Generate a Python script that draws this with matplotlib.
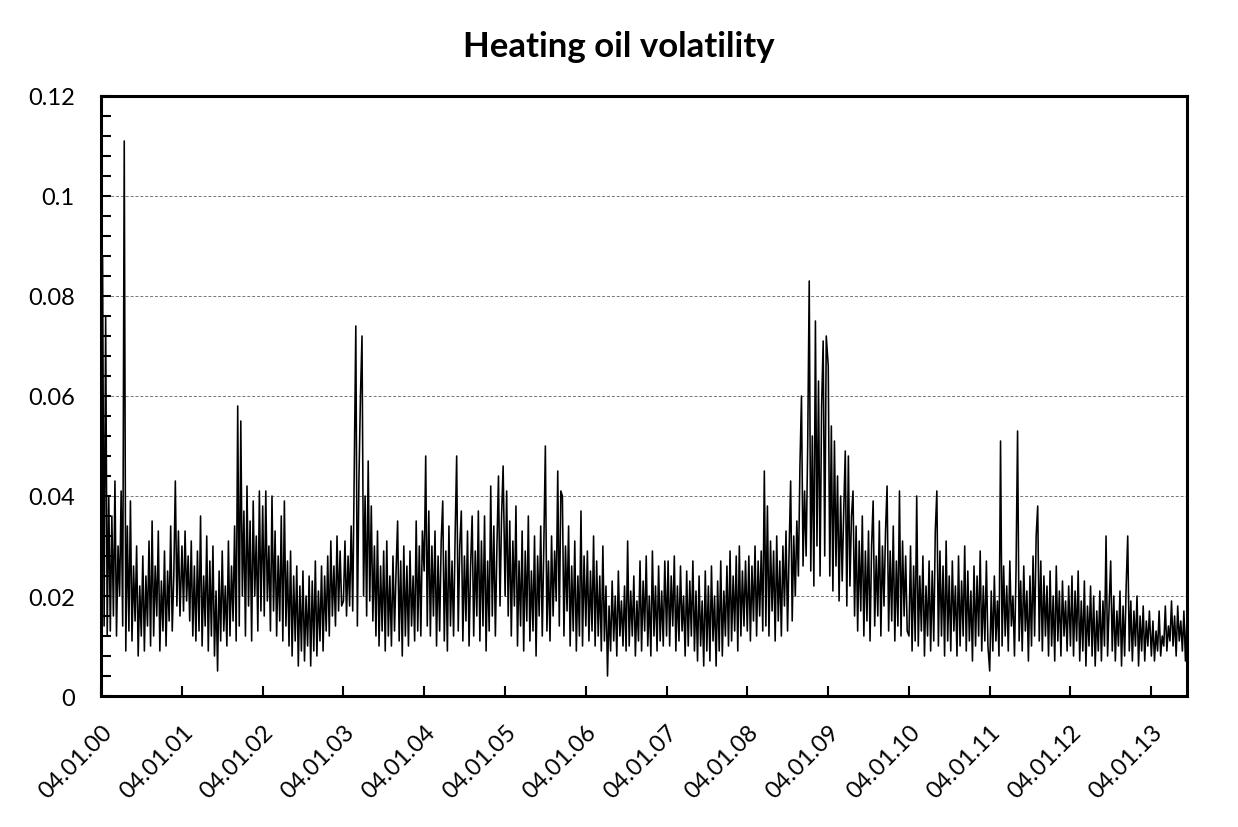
import numpy as np
import pandas as pd
import matplotlib
matplotlib.use("Agg")
import matplotlib.pyplot as plt
from matplotlib.ticker import MultipleLocator

# weekly readings of the volatility series, one list per year (starting 4 Jan)
vol_2000 = [0.025, 0.088, 0.014, 0.076, 0.012, 0.040, 0.013, 0.036, 0.016, 0.043, 0.012, 0.030, 0.020, 0.041, 0.014, 0.111,
            0.009, 0.034, 0.013, 0.039, 0.011, 0.026, 0.015, 0.030, 0.008, 0.022, 0.012, 0.028, 0.009, 0.024, 0.014, 0.031,
            0.010, 0.035, 0.012, 0.026, 0.016, 0.033, 0.009, 0.023, 0.013, 0.029, 0.010, 0.025, 0.015, 0.034, 0.013, 0.024,
            0.043, 0.018, 0.033, 0.016]
vol_2001 = [0.030, 0.017, 0.033, 0.019, 0.028, 0.015, 0.031, 0.012, 0.026,
            0.011, 0.029, 0.013, 0.036, 0.010, 0.024, 0.014, 0.032, 0.009, 0.027, 0.012, 0.030, 0.008, 0.021, 0.005,
            0.025, 0.011, 0.029, 0.013, 0.022, 0.010, 0.031, 0.012, 0.026, 0.015, 0.034, 0.011,
            0.058, 0.014, 0.055, 0.020, 0.037, 0.012, 0.042, 0.018, 0.035, 0.011, 0.039, 0.020, 0.032, 0.013, 0.041, 0.017]
vol_2002 = [0.038, 0.016, 0.041, 0.019, 0.030, 0.013, 0.040, 0.017, 0.033, 0.012, 0.028, 0.015, 0.036,
            0.011, 0.039, 0.014,
            0.027, 0.010, 0.029, 0.008, 0.024, 0.011, 0.026, 0.006, 0.022, 0.009, 0.025, 0.007, 0.020, 0.010, 0.024,
            0.006, 0.023, 0.009, 0.027, 0.008, 0.021, 0.011, 0.026, 0.009, 0.024,
            0.013, 0.028, 0.012, 0.031, 0.016, 0.026, 0.014, 0.032, 0.017, 0.029, 0.018]
vol_2003 = [0.019, 0.031, 0.016, 0.028, 0.018, 0.034, 0.017, 0.045,
            0.074, 0.014, 0.043, 0.060, 0.072, 0.020, 0.040, 0.016, 0.047, 0.019, 0.038, 0.015,
            0.030, 0.012, 0.033, 0.010, 0.026, 0.013, 0.029, 0.009, 0.031, 0.012, 0.024, 0.010, 0.028, 0.013, 0.025,
            0.035, 0.011, 0.027, 0.008, 0.030, 0.012, 0.026, 0.010, 0.029, 0.014, 0.024, 0.011, 0.035, 0.013, 0.030,
            0.012, 0.033]
vol_2004 = [0.025, 0.048, 0.014, 0.037, 0.012, 0.030, 0.016, 0.033, 0.010, 0.028, 0.013, 0.031,
            0.039,
            0.011, 0.029, 0.009, 0.034, 0.014, 0.027, 0.012, 0.032,
            0.048,
            0.013, 0.030, 0.037, 0.011, 0.028, 0.015, 0.033, 0.010, 0.026, 0.036, 0.012, 0.029, 0.016, 0.037, 0.011,
            0.031, 0.014, 0.036, 0.009, 0.027, 0.013,
            0.042, 0.016, 0.034, 0.012, 0.030, 0.044, 0.018, 0.036, 0.046]
vol_2005 = [0.020, 0.041, 0.016, 0.035, 0.012, 0.031, 0.018, 0.038, 0.010, 0.027, 0.014, 0.033, 0.009, 0.029, 0.015,
            0.036, 0.011, 0.025, 0.013, 0.032, 0.008, 0.028, 0.016, 0.034, 0.012, 0.030,
            0.050,
            0.013, 0.027, 0.011, 0.032, 0.016, 0.029, 0.019, 0.045, 0.014, 0.041, 0.040, 0.012, 0.030, 0.017, 0.034,
            0.010, 0.026, 0.013, 0.031, 0.009, 0.024, 0.012, 0.037, 0.010, 0.028]
vol_2006 = [0.014, 0.029, 0.011, 0.025, 0.013, 0.032, 0.010, 0.027, 0.012, 0.024, 0.009, 0.030, 0.011, 0.022,
            0.004,
            0.018, 0.009, 0.023, 0.011, 0.020, 0.008, 0.025, 0.012, 0.019, 0.010, 0.022, 0.009,
            0.031,
            0.010, 0.021, 0.012, 0.024, 0.008, 0.019, 0.011, 0.027, 0.009, 0.023, 0.013, 0.028, 0.010, 0.020, 0.008,
            0.029, 0.012, 0.022, 0.009, 0.026, 0.011, 0.021, 0.010, 0.027]
vol_2007 = [0.012, 0.027, 0.010, 0.024, 0.014, 0.028, 0.009, 0.022, 0.011, 0.026, 0.013, 0.020, 0.008, 0.025, 0.010,
            0.023, 0.012, 0.027, 0.009, 0.021, 0.007, 0.024, 0.010, 0.019, 0.006, 0.025, 0.009, 0.022, 0.007, 0.026,
            0.011, 0.020, 0.006, 0.023, 0.009, 0.027, 0.008, 0.021, 0.012, 0.026, 0.010, 0.029, 0.011, 0.024, 0.013,
            0.028, 0.009, 0.030, 0.012, 0.025, 0.014, 0.027]
vol_2008 = [0.013, 0.028, 0.011, 0.026, 0.015, 0.030, 0.012, 0.027, 0.016, 0.029, 0.013,
            0.045,
            0.014, 0.038, 0.012, 0.031, 0.017, 0.029, 0.011, 0.032, 0.015, 0.027, 0.012, 0.030, 0.018, 0.033, 0.013,
            0.029,
            0.043,
            0.015, 0.032, 0.020, 0.035, 0.024, 0.046, 0.060, 0.026, 0.041, 0.028, 0.050,
            0.083,
            0.025, 0.052, 0.022, 0.075, 0.030, 0.063, 0.024, 0.058, 0.071, 0.028, 0.072]
vol_2009 = [0.066, 0.024, 0.054, 0.021, 0.051, 0.026, 0.044, 0.019, 0.040, 0.023, 0.037, 0.049, 0.018, 0.048, 0.022,
            0.036,
            0.041, 0.016, 0.034, 0.013, 0.031, 0.017, 0.036, 0.012, 0.029, 0.015, 0.033, 0.011, 0.030, 0.039, 0.014,
            0.028, 0.016, 0.035, 0.012, 0.030, 0.018, 0.033, 0.042, 0.013, 0.029, 0.015, 0.034, 0.011, 0.027, 0.014,
            0.041, 0.012, 0.031, 0.016, 0.028, 0.013]
vol_2010 = [0.012, 0.030, 0.009, 0.026, 0.011, 0.040, 0.010, 0.024, 0.013, 0.028, 0.008, 0.022, 0.012, 0.027, 0.009,
            0.025, 0.011, 0.033, 0.041, 0.010, 0.029, 0.012, 0.026, 0.008, 0.031, 0.011, 0.024, 0.009, 0.027, 0.013,
            0.022, 0.008, 0.028, 0.010, 0.023, 0.012, 0.030, 0.009, 0.025, 0.011, 0.021, 0.007, 0.026, 0.010, 0.024,
            0.012, 0.029, 0.009, 0.022, 0.011, 0.027, 0.010]
vol_2011 = [0.005, 0.021, 0.009, 0.024, 0.011, 0.019, 0.008, 0.051, 0.010, 0.026, 0.012, 0.022, 0.009, 0.027, 0.014,
            0.020, 0.008, 0.025, 0.053, 0.011, 0.023, 0.009, 0.026, 0.013, 0.021, 0.007, 0.024, 0.010, 0.028, 0.012,
            0.032, 0.038, 0.011, 0.027, 0.009, 0.024, 0.012, 0.022, 0.008, 0.025, 0.010, 0.020, 0.007, 0.026, 0.011,
            0.021, 0.008, 0.023, 0.012, 0.019, 0.009, 0.022]
vol_2012 = [0.010, 0.024, 0.008, 0.021, 0.011, 0.025, 0.007, 0.019, 0.009, 0.023, 0.006, 0.018, 0.010, 0.022, 0.008,
            0.020, 0.006, 0.017, 0.009, 0.021, 0.007, 0.019, 0.010, 0.032, 0.008, 0.018, 0.027, 0.009, 0.020, 0.007,
            0.017, 0.010, 0.021, 0.006, 0.018, 0.008, 0.022, 0.032, 0.009, 0.019, 0.007, 0.017, 0.010, 0.020, 0.006,
            0.016, 0.009, 0.018, 0.007, 0.015, 0.010, 0.017]
vol_2013 = [0.008, 0.015, 0.007, 0.013, 0.009, 0.017, 0.008, 0.012, 0.010, 0.018, 0.009, 0.014, 0.011, 0.019, 0.010,
            0.016, 0.008, 0.018, 0.011, 0.015, 0.009, 0.017, 0.007, 0.016]

years = list(range(2000, 2014))
yearly = [vol_2000, vol_2001, vol_2002, vol_2003, vol_2004, vol_2005, vol_2006,
          vol_2007, vol_2008, vol_2009, vol_2010, vol_2011, vol_2012, vol_2013]

y_ticks = [0, 0.02, 0.04, 0.06, 0.08, 0.10, 0.12]
y_labels = ["0", "0.02", "0.04", "0.06", "0.08", "0.1", "0.12"]

# each year's readings anchored at 4 Jan, weekly spacing
dates = []
values = []
for yr, vals in zip(years, yearly):
    dates.extend(pd.date_range(f"{yr}-01-04", periods=len(vals), freq="7D"))
    values.extend(vals)
series = pd.Series(values, index=pd.DatetimeIndex(dates))

plt.rcParams['font.family'] = ['Lato', 'DejaVu Sans']

fig = plt.figure(figsize=(12.38, 8.28), dpi=100)
ax = fig.add_axes([0.0816, 0.1582, 0.8772, 0.7247])

ax.plot(series.index, series.values, color="black", lw=1.15)

ax.set_ylim(0, 0.12)
ax.set_xlim(pd.Timestamp("2000-01-04"), series.index[-1])

ax.set_yticks(y_ticks)
ax.set_yticklabels(y_labels)
ax.yaxis.set_minor_locator(MultipleLocator(0.004))

tick_dates = [pd.Timestamp(f"{yr}-01-04") for yr in years]
ax.set_xticks(tick_dates)
ax.set_xticklabels([d.strftime("%d.%m.%y") for d in tick_dates], rotation=45,
                   ha="right", rotation_mode="anchor")

ax.tick_params(axis="both", which="both", direction="in", labelsize=17, width=1.5, color="black")
ax.tick_params(axis="y", which="both", length=7, pad=19)
ax.tick_params(axis="x", which="major", length=7, pad=18)
ax.tick_params(axis="x", which="minor", length=0)

for sp in ax.spines.values():
    sp.set_linewidth(2.2)

for g in y_ticks[1:-1]:
    ax.axhline(g, color="#777777", lw=0.7, ls=(0, (3, 2)), zorder=0)

fig.text(0.5, 0.943, "Heating oil volatility", ha="center", va="center",
         fontsize=25, fontweight="bold")

fig.savefig("out.png", dpi=100)
